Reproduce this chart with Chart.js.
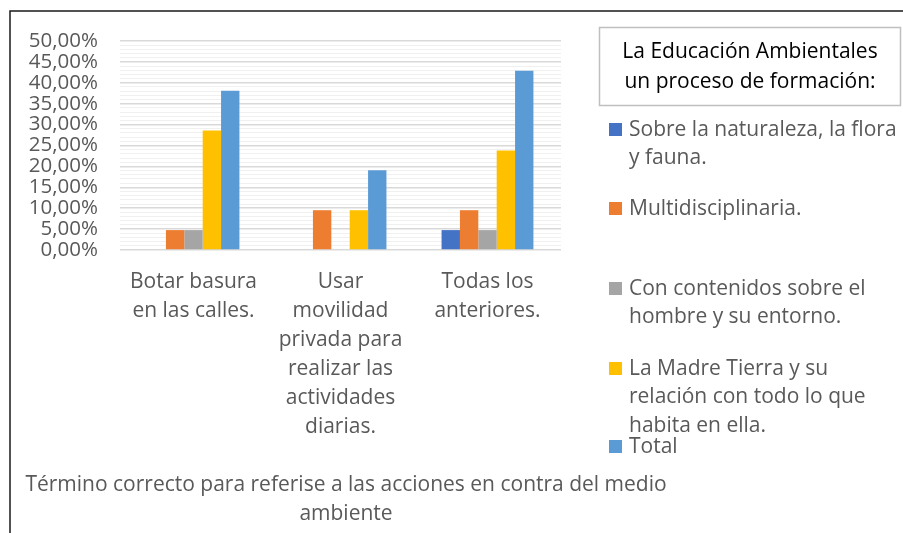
<!DOCTYPE html>
<html>
<head>
<meta charset="utf-8">
<script src="https://cdn.jsdelivr.net/npm/chart.js@4.4.1/dist/chart.umd.min.js"></script>
<style>
  html, body { margin: 0; padding: 0; background: #fff; }
  #wrap { width: 903px; height: 533px; position: relative; }
</style>
</head>
<body>
<div id="wrap"><canvas id="grafico"></canvas></div>
<script>
"use strict";

// categorias del eje x (una linea por elemento)
const categorias = [
  ["Botar basura", "en las calles."],
  ["Usar", "movilidad", "privada para", "realizar las", "actividades", "diarias."],
  ["Todas los", "anteriores."]
];

// valores de cada serie (fraccion)
const serieNaturaleza = [0, 0, 0.0476];
const serieMulti = [0.0476, 0.0952, 0.0952];
const serieHombre = [0.0476, 0, 0.0476];
const serieMadreTierra = [0.2857, 0.0952, 0.2381];
const serieTotal = [0.3810, 0.1905, 0.4286];

// nombres de las series (lineas de la leyenda)
const nombresSeries = [
  ["Sobre la naturaleza, la flora", "y fauna."],
  ["Multidisciplinaria."],
  ["Con contenidos sobre el", "hombre y su entorno."],
  ["La Madre Tierra y su", "relación con todo lo que", "habita en ella."],
  ["Total"]
];
const colores = ["#4472C4", "#ED7D31", "#A5A5A5", "#FFC000", "#5B9BD5"];

const tituloLeyenda = ["La Educación Ambientales", "un proceso de formación:"];
const tituloEje = ["Término correcto para referise a las acciones en contra del medio", "ambiente"];

const fuente = "'Open Sans', sans-serif";
const gris = "#595959";
const tam = 21;

// leyenda a la derecha con titulo en recuadro + titulo del eje x
var leyendaPlugin = {
  id: "leyendaCustom",
  afterDraw: function (chart) {
    var ctx = chart.ctx;
    ctx.save();

    // marco del grafico (solo izquierda y arriba visibles)
    ctx.strokeStyle = "#1a1a1a";
    ctx.lineWidth = 1.5;
    ctx.beginPath();
    ctx.moveTo(10, 533);
    ctx.lineTo(10, 11);
    ctx.lineTo(903, 11);
    ctx.stroke();

    // recuadro del titulo
    ctx.strokeStyle = "#bfbfbf";
    ctx.lineWidth = 1.5;
    ctx.strokeRect(599.5, 27.5, 301, 78);
    ctx.fillStyle = "#000";
    ctx.font = tam + "px " + fuente;
    ctx.textAlign = "center";
    ctx.textBaseline = "middle";
    tituloLeyenda.forEach(function (t, i) {
      ctx.fillText(t, 750, 52 + i * 30);
    });

    // titulo del eje x (sin recortar al ancho del area)
    ctx.fillStyle = gris;
    tituloEje.forEach(function (t, i) {
      ctx.fillText(t, 346, 485 + i * 29);
    });

    // elementos
    var yInicio = [130, 209, 289, 369, 447];
    ctx.textAlign = "left";
    chart.data.datasets.forEach(function (ds, i) {
      var y = yInicio[i];
      ctx.fillStyle = ds.backgroundColor;
      ctx.fillRect(609, y - 7, 13, 13);
      ctx.fillStyle = gris;
      nombresSeries[i].forEach(function (linea, j) {
        ctx.fillText(linea, 629, y + j * 28.5);
      });
    });
    ctx.restore();
  }
};

var series = [serieNaturaleza, serieMulti, serieHombre, serieMadreTierra, serieTotal];

var ctx = document.getElementById("grafico");
var grafico = new Chart(ctx, {
  type: "bar",
  data: {
    labels: categorias,
    datasets: series.map(function (s, i) {
      return {
        label: nombresSeries[i].join(" "),
        data: s,
        backgroundColor: colores[i],
        borderWidth: 0,
        categoryPercentage: 0.625,
        barPercentage: 1
      };
    })
  },
  options: {
    responsive: true,
    maintainAspectRatio: false,
    animation: false,
    layout: {
      padding: { left: 10, right: 342, top: 41, bottom: 0 }
    },
    plugins: {
      legend: { display: false },
      tooltip: { enabled: false }
    },
    scales: {
      x: {
        afterFit: function (scale) { scale.height = 283; },
        grid: { display: false, drawTicks: false },
        border: { display: false },
        ticks: {
          color: gris,
          font: { family: fuente, size: tam, lineHeight: 29 / tam },
          padding: 18,
          maxRotation: 0
        }
      },
      y: {
        min: 0,
        max: 0.5,
        afterFit: function (scale) { scale.width = 110; },
        border: { display: false },
        grid: {
          drawTicks: false,
          color: function (c) {
            return Math.round(c.tick.value * 100) % 5 === 0 ? "#d9d9d9" : "#f0f0f0";
          },
          lineWidth: function (c) {
            return Math.round(c.tick.value * 100) % 5 === 0 ? 1.5 : 1;
          }
        },
        ticks: {
          stepSize: 0.01,
          autoSkip: false,
          padding: 22,
          color: gris,
          font: { family: fuente, size: 20.5, lineHeight: 1.0 },
          callback: function (v) {
            var p = Math.round(v * 100);
            if (p % 5 !== 0) return "";
            return p.toFixed(2).replace(".", ",") + "%";
          }
        }
      }
    }
  },
  plugins: [leyendaPlugin]
});
</script>
</body>
</html>
